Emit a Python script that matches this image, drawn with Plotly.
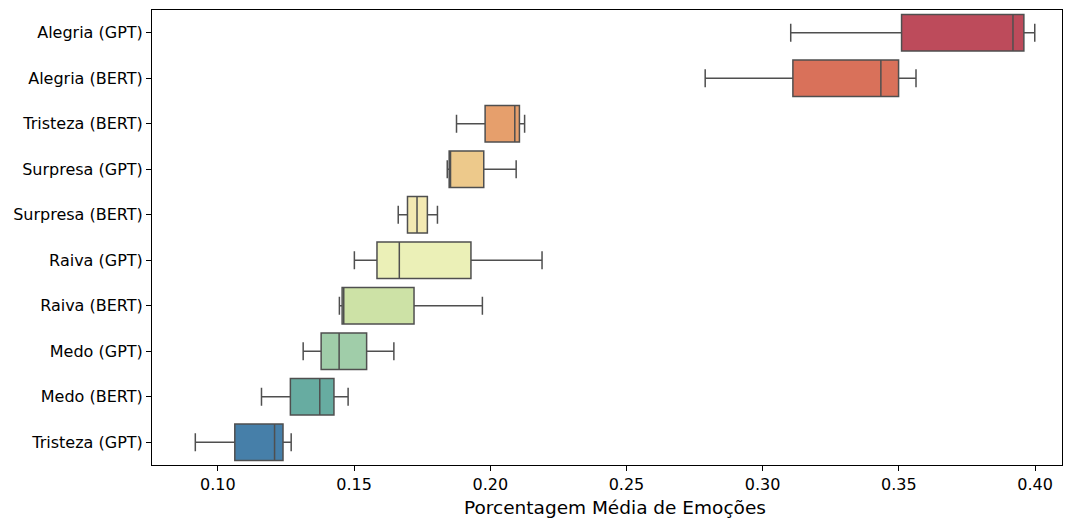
import colorsys
import plotly.graph_objects as go

categories = ["Alegria (GPT)", "Alegria (BERT)", "Tristeza (BERT)", "Surpresa (GPT)",
              "Surpresa (BERT)", "Raiva (GPT)", "Raiva (BERT)", "Medo (GPT)",
              "Medo (BERT)", "Tristeza (GPT)"]
lower_whisker = [0.3103, 0.2789, 0.1876, 0.1842, 0.1662, 0.1501, 0.1446, 0.1313, 0.1160, 0.0917]
q1_values     = [0.3510, 0.3111, 0.1981, 0.1849, 0.1696, 0.1584, 0.1456, 0.1379, 0.1266, 0.1062]
median_values = [0.3919, 0.3434, 0.2090, 0.1854, 0.1731, 0.1666, 0.1462, 0.1445, 0.1374, 0.1208]
q3_values     = [0.3959, 0.3499, 0.2107, 0.1976, 0.1769, 0.1929, 0.1720, 0.1546, 0.1426, 0.1239]
upper_whisker = [0.3999, 0.3563, 0.2126, 0.2095, 0.1806, 0.2190, 0.1971, 0.1646, 0.1478, 0.1269]
palette = ["#d0384e", "#ee6445", "#fa9c58", "#fdcd7b", "#fef0a7",
           "#f3faad", "#d0ec9c", "#98d5a4", "#5cb7a9", "#3582ba"]
x_label = "Porcentagem Média de Emoções"


def desaturate(hex_color, prop=0.75):
    r, g, b = (int(hex_color[i:i + 2], 16) / 255 for i in (1, 3, 5))
    h, l, s = colorsys.rgb_to_hls(r, g, b)
    r, g, b = colorsys.hls_to_rgb(h, l, s * prop)
    return "rgb({},{},{})".format(round(r * 255), round(g * 255), round(b * 255))


fig = go.Figure()
for i, cat in enumerate(categories):
    fig.add_trace(go.Box(
        y=[cat], orientation="h",
        q1=[q1_values[i]], median=[median_values[i]], q3=[q3_values[i]],
        lowerfence=[lower_whisker[i]], upperfence=[upper_whisker[i]],
        fillcolor=desaturate(palette[i]),
        line=dict(color="#4f4f4f", width=1.5),
        width=0.8, whiskerwidth=0.5, boxpoints=False,
        showlegend=False, name=cat,
    ))

axis_common = dict(showline=True, linecolor="black", linewidth=1, mirror=True,
                   ticks="outside", ticklen=5, tickcolor="black", showgrid=False,
                   zeroline=False, automargin=False, tickfont=dict(size=16, color="black"))

fig.update_layout(
    width=1067, height=520,
    margin=dict(l=152, r=5, t=10, b=55),
    plot_bgcolor="white", paper_bgcolor="white",
    font=dict(family="DejaVu Sans", color="black"),
    xaxis=dict(range=[0.0758, 0.4099], tick0=0, dtick=0.05, tickformat=".2f",
               **axis_common),
    yaxis=dict(type="category", categoryorder="array", categoryarray=categories[::-1],
               range=[-0.5, 9.5], **axis_common),
    annotations=[dict(text=x_label, xref="paper", yref="paper", x=0.5088, y=-0.0934,
                      xanchor="center", yanchor="middle", showarrow=False,
                      font=dict(size=18.5, color="black"))],
)

fig.write_html("out.html")
